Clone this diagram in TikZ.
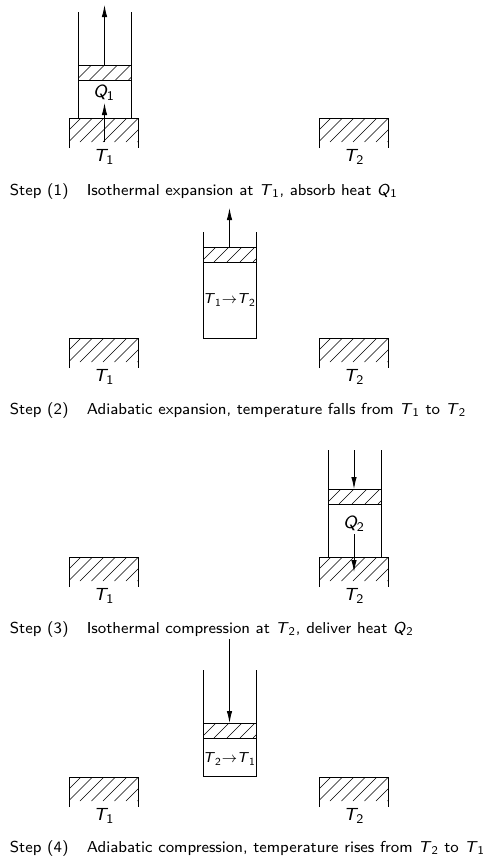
\documentclass[tikz,border=0pt]{standalone}
\usetikzlibrary{arrows.meta}
\tikzset{
  x=1pt,y=-1pt,
  wall/.style={line width=0.9pt,line cap=butt},
  hatchline/.style={line width=0.6pt},
  rod/.style={line width=0.9pt,-{Latex[length=12pt,width=5.5pt]}},
  lbl/.style={inner sep=0pt,font=\sffamily\fontsize{8}{10}\selectfont\itshape,scale=2.2,transform shape},
  midlbl/.style={inner sep=0pt,font=\sffamily\fontsize{8}{10}\selectfont,scale=1.8,transform shape},
  captext/.style={inner sep=0pt,anchor=base west,font=\sffamily\fontsize{8}{10}\selectfont,scale=1.98,transform shape},
}
\newcommand{\Tsub}[2]{\textit{#1}\textsubscript{\upshape#2}}
% bath: centre x, top y
\newcommand{\bath}[4]{%
  \begin{scope}
    \clip (#1-34.5,#2) rectangle (#1+34.5,#2+24);
    \foreach \k in {-3,...,8} \draw[hatchline] (#1-34.5+\k*11.5-24,#2+24) -- ++(24,-24);
  \end{scope}
  \draw[wall] (#1-34.5,#2+30) -- (#1-34.5,#2) -- (#1+34.5,#2) -- (#1+34.5,#2+30);
  \node[lbl] (#3) at (#1,#2+39) {\Tsub{T}{#4}};
}
% piston: left x, top y
\newcommand{\piston}[2]{%
  \begin{scope}
    \clip (#1,#2) rectangle (#1+53,#2+15);
    \foreach \k in {-1,...,6} \draw[hatchline] (#1+\k*13-15,#2+15) -- ++(15,-15);
  \end{scope}
  \draw[wall] (#1,#2) -- (#1+53,#2) (#1,#2+15) -- (#1+53,#2+15);
}
\begin{document}
\begin{tikzpicture}
\useasboundingbox (0,0) rectangle (487,857);
% Step 1
\bath{104}{118}{a1}{1}
\bath{354}{118}{a2}{2}
\draw[wall] (78.5,12) -- (78.5,118) (131.5,12) -- (131.5,118);
\piston{78.5}{65}
\coordinate (a3) at (104.5,65); \coordinate (a4) at (104.5,5);
\draw[rod] (a3) -- (a4);
\coordinate (a5) at (104.5,142); \coordinate (a6) at (104.5,103);
\draw[rod] (a5) -- (a6);
\node[lbl] (qa) at (104,93) {\Tsub{Q}{1}};
\node[captext] (ca) at (9.5,195) {Step (1)\hspace{1.15em}Isothermal expansion at \Tsub{T}{1}, absorb heat \Tsub{Q}{1}};
% Step 2
\bath{104}{338}{b1}{1}
\bath{354}{338}{b2}{2}
\draw[wall] (203,232) -- (203,338) -- (256,338) -- (256,232);
\piston{203}{247}
\coordinate (b3) at (229.5,247); \coordinate (b4) at (229.5,208);
\draw[rod] (b3) -- (b4);
\node[midlbl] (tb) at (229.5,300) {\Tsub{T}{1}$\rightarrow$\Tsub{T}{2}};
\node[captext] (cb) at (9.5,414) {Step (2)\hspace{1.15em}Adiabatic expansion, temperature falls from \Tsub{T}{1} to \Tsub{T}{2}};
% Step 3
\bath{104}{557}{c1}{1}
\bath{354}{557}{c2}{2}
\draw[wall] (328,450) -- (328,557) (381,450) -- (381,557);
\piston{328}{489}
\coordinate (c3) at (354,450); \coordinate (c4) at (354,489);
\draw[rod] (c3) -- (c4);
\coordinate (c5) at (354,534); \coordinate (c6) at (354,572);
\draw[rod] (c5) -- (c6);
\node[lbl] (qc) at (354,524) {\Tsub{Q}{2}};
\node[captext] (cc) at (9.5,633) {Step (3)\hspace{1.15em}Isothermal compression at \Tsub{T}{2}, deliver heat \Tsub{Q}{2}};
% Step 4
\bath{104}{777}{d1}{1}
\bath{354}{777}{d2}{2}
\draw[wall] (203,670) -- (203,776) -- (256,776) -- (256,670);
\piston{203}{723}
\coordinate (d3) at (229.5,639); \coordinate (d4) at (229.5,723);
\draw[rod] (d3) -- (d4);
\node[midlbl] (td) at (229.5,759) {\Tsub{T}{2}$\rightarrow$\Tsub{T}{1}};
\node[captext] (cd) at (9.5,852) {Step (4)\hspace{1.15em}Adiabatic compression, temperature rises from \Tsub{T}{2} to \Tsub{T}{1}};
\end{tikzpicture}
\end{document}
